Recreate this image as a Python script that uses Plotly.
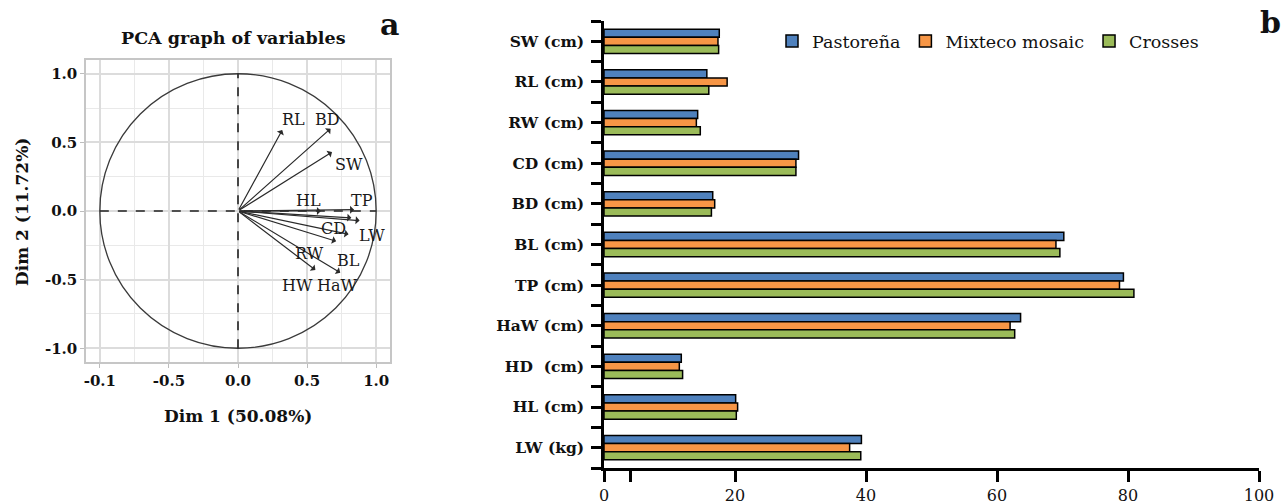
import plotly.graph_objects as go

# ---------------- Panel a: PCA variables ----------------
pca_vars = ["RL", "BD", "SW", "HL", "TP", "LW", "CD", "BL", "RW", "HW", "HaW"]
dim1 = [0.32, 0.67, 0.68, 0.60, 0.84, 0.88, 0.82, 0.80, 0.71, 0.56, 0.74]
dim2 = [0.59, 0.60, 0.43, 0.00, 0.01, -0.07, -0.05, -0.17, -0.22, -0.43, -0.45]
label_x = [0.40, 0.65, 0.80, 0.51, 0.90, 0.97, 0.69, 0.80, 0.52, 0.43, 0.72]
label_y = [0.67, 0.67, 0.34, 0.08, 0.08, -0.18, -0.13, -0.36, -0.31, -0.54, -0.54]
pca_tickvals = [-1.0, -0.5, 0.0, 0.5, 1.0]
pca_x_ticktext = ["-0.1", "-0.5", "0.0", "0.5", "1.0"]
pca_y_ticktext = ["-1.0", "-0.5", "0.0", "0.5", "1.0"]
pca_minor = [-0.75, -0.25, 0.25, 0.75]

# ---------------- Panel b: bar chart ----------------
traits = ["SW (cm)", "RL (cm)", "RW (cm)", "CD (cm)", "BD (cm)", "BL (cm)",
          "TP (cm)", "HaW (cm)", "HD\u00a0 (cm)", "HL (cm)", "LW (kg)"]
pastorena = [17.6, 15.7, 14.3, 29.7, 16.6, 70.2, 79.3, 63.6, 11.8, 20.1, 39.3]
mixteco = [17.4, 18.8, 14.1, 29.3, 16.9, 69.0, 78.7, 62.0, 11.5, 20.4, 37.5]
crosses = [17.5, 16.0, 14.7, 29.3, 16.4, 69.6, 80.9, 62.7, 12.0, 20.2, 39.2]
series_names = ["Pastoreña", "Mixteco mosaic", "Crosses"]
series_colors = ["#4F81BD", "#F79646", "#9BBB59"]
bar_xticks = [0, 4.1, 20, 40, 60, 80, 100]
bar_xticktext = ["0", "", "20", "40", "60", "80", "100"]

SERIF = "DejaVu Serif"
W, H = 1288, 501

fig = go.Figure()

# bars
for name, vals, col in zip(series_names, [pastorena, mixteco, crosses], series_colors):
    fig.add_trace(go.Bar(
        x=vals, y=traits, orientation="h", name=name,
        marker=dict(color=col, line=dict(color="black", width=1.5)),
        xaxis="x2", yaxis="y2",
    ))

# invisible trace to anchor PCA axes
fig.add_trace(go.Scatter(x=dim1, y=dim2, mode="markers", marker=dict(size=1, opacity=0),
                         showlegend=False, hoverinfo="skip", xaxis="x", yaxis="y"))

annotations = []
for v, x, y in zip(pca_vars, dim1, dim2):
    annotations.append(dict(
        x=x, y=y, ax=0, ay=0, xref="x", yref="y", axref="x", ayref="y",
        text="", showarrow=True, arrowhead=1, arrowsize=1.1, arrowwidth=1.2,
        arrowcolor="#2a2a2a", standoff=0, startstandoff=0,
    ))
for v, x, y in zip(pca_vars, label_x, label_y):
    annotations.append(dict(
        x=x, y=y, xref="x", yref="y", text=v, showarrow=False,
        xanchor="center", yanchor="middle",
        font=dict(family=SERIF, size=16, color="#1a1a1a"),
    ))

def px(xp):
    return xp / W

def py(yp):
    return 1 - yp / H

def ptext(xp, yp, text, size, angle=0):
    return dict(x=px(xp), y=py(yp), xref="paper", yref="paper", text=text,
                xanchor="center", yanchor="middle", textangle=angle, showarrow=False,
                font=dict(family=SERIF, size=size, color="#111", weight="bold"))

annotations += [
    ptext(233, 38, "PCA graph of variables", 17.5),
    ptext(389, 25, "a", 30),
    ptext(1270, 22, "b", 30),
    ptext(238, 416, "Dim 1 (50.08%)", 17),
    ptext(22, 212, "Dim 2 (11.72%)", 17, -90),
]

shapes = [
    dict(type="circle", xref="x", yref="y", x0=-1, y0=-1, x1=1, y1=1,
         line=dict(color="#3a3a3a", width=1.3), layer="above"),
    dict(type="line", xref="x", yref="y", x0=-1, y0=0, x1=1, y1=0,
         line=dict(color="#222", width=1.6, dash="dash"), layer="above"),
    dict(type="line", xref="x", yref="y", x0=0, y0=-1, x1=0, y1=1,
         line=dict(color="#222", width=1.6, dash="dash"), layer="above"),
]

pca_axis_common = dict(
    range=[-1.1, 1.1], tickmode="array", tickvals=pca_tickvals,
    showgrid=True, gridcolor="#dcdcdc", gridwidth=1.5,
    minor=dict(tickmode="array", tickvals=pca_minor, showgrid=True, gridcolor="#e9e9e9", gridwidth=1.2),
    zeroline=False, showline=True, linecolor="#c6c6c6", linewidth=1.5, mirror=True,
    ticks="outside", ticklen=4, tickcolor="#bdbdbd", tickwidth=1,
    tickfont=dict(family=SERIF, size=15, color="#111", weight="bold"),
    fixedrange=True, automargin=False,
)

fig.update_layout(
    width=W, height=H,
    margin=dict(l=0, r=0, t=0, b=0, autoexpand=False),
    paper_bgcolor="white", plot_bgcolor="white",
    barmode="group", bargap=0.40, bargroupgap=0.0,
    xaxis=dict(domain=[px(86), px(390)], anchor="y", ticktext=pca_x_ticktext, **pca_axis_common),
    yaxis=dict(domain=[py(362), py(60)], anchor="x", ticktext=pca_y_ticktext, **pca_axis_common),
    xaxis2=dict(
        domain=[px(604), px(1259)], anchor="y2", range=[0, 100],
        tickmode="array", tickvals=bar_xticks, ticktext=bar_xticktext,
        showgrid=False, zeroline=False, showline=True, linecolor="black", linewidth=3,
        ticks="outside", ticklen=11, tickwidth=3, tickcolor="black",
        tickfont=dict(family=SERIF, size=16, color="#111"),
        fixedrange=True, automargin=False,
    ),
    yaxis2=dict(
        domain=[py(468), py(21)], anchor="x2",
        categoryorder="array", categoryarray=traits, autorange="reversed",
        tickmode="array",
        tickvals=traits + [i - 0.5 for i in range(len(traits) + 1)],
        ticktext=traits + [""] * (len(traits) + 1),
        showgrid=False, zeroline=False, showline=True, linecolor="black", linewidth=2.5,
        ticks="outside", ticklen=10, tickwidth=3, tickcolor="black",
        tickfont=dict(family=SERIF, size=15.5, color="#111", weight="bold"),
        ticklabelstandoff=4,
        fixedrange=True, automargin=False,
    ),
    legend=dict(
        orientation="h", x=px(772), y=py(41), xanchor="left", yanchor="middle",
        font=dict(family=SERIF, size=17.5, color="#111"),
        bgcolor="rgba(0,0,0,0)", traceorder="normal",
        itemwidth=30,
    ),
    annotations=annotations,
    shapes=shapes,
)

fig.write_html(
    "out.html",
    config={"displayModeBar": False},
    post_script="document.body.style.margin='0px'; document.body.style.overflow='hidden';",
)
